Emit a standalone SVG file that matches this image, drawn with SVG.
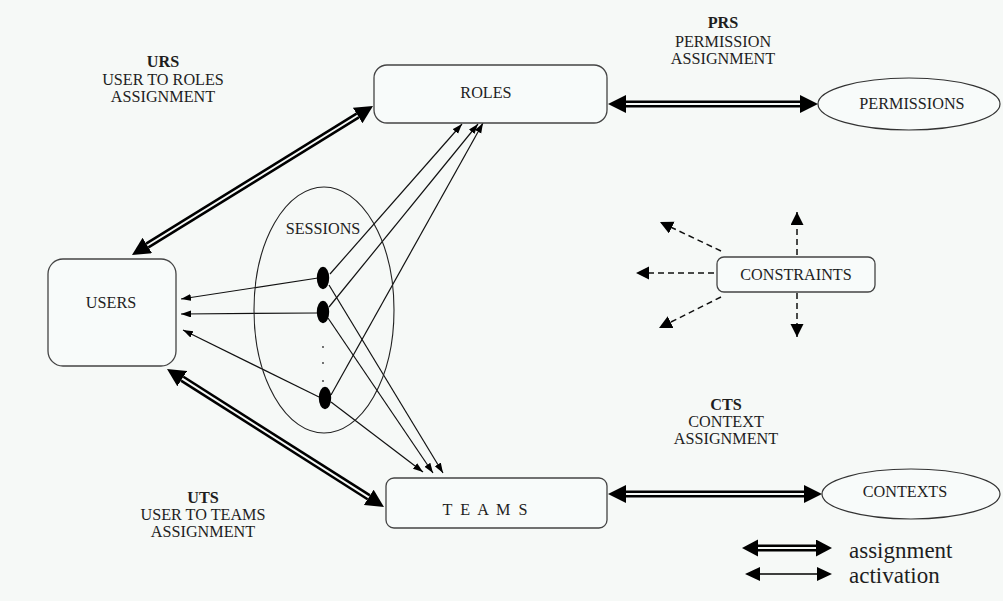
<svg xmlns="http://www.w3.org/2000/svg" width="1003" height="601" viewBox="0 0 1003 601">
  <style>
    text { font-family: "Liberation Serif", "Times New Roman", serif; fill: #1e1e1e; text-anchor: middle; }
    .lbl { font-size: 16.2px; }
    .bold { font-weight: bold; }
    .node { fill: #f8fbfa; stroke: #444; stroke-width: 1.3; }
    .thin { stroke: #111; stroke-width: 1.2; fill: none; marker-end: url(#tip); }
    .dash { stroke: #111; stroke-width: 1.5; fill: none; stroke-dasharray: 6 4; marker-end: url(#dtip); }
    .dblOuter { stroke: #000; stroke-width: 7; fill: none; }
    .dblInner { stroke: #f6f9f7; stroke-width: 2; fill: none; }
  </style>
  <defs>
    <marker id="tip" markerUnits="userSpaceOnUse" markerWidth="11" markerHeight="8" refX="10" refY="3.5" orient="auto">
      <path d="M0,0 L10,3.5 L0,7 z" fill="#000"/>
    </marker>
    <marker id="dtip" markerUnits="userSpaceOnUse" markerWidth="14" markerHeight="14" refX="13" refY="6.5" orient="auto">
      <path d="M0,0 L13,6.5 L0,13 z" fill="#000"/>
    </marker>
    <!-- large head for assignment links, base at refX=0 so it sits beyond the line end -->
    <marker id="big" markerUnits="userSpaceOnUse" markerWidth="19" markerHeight="19" refX="0" refY="9" orient="auto-start-reverse">
      <path d="M0,0 L18,9 L0,18 z" fill="#000"/>
    </marker>
    <marker id="bigLegend" markerUnits="userSpaceOnUse" markerWidth="17" markerHeight="18" refX="0" refY="8.5" orient="auto-start-reverse">
      <path d="M0,0 L16,8.5 L0,17 z" fill="#000"/>
    </marker>
    <marker id="midTip" markerUnits="userSpaceOnUse" markerWidth="16" markerHeight="15" refX="0" refY="7" orient="auto-start-reverse">
      <path d="M0,0 L15,7 L0,14 z" fill="#000"/>
    </marker>
  </defs>

  <rect x="0" y="0" width="1003" height="601" fill="#f6f9f7"/>

  <!-- connectors -->
  <g id="connectors">
    <!-- assignment links (double line) -->
    <g id="urs-link">
      <line class="dblOuter" x1="147.3" y1="245.5" x2="357.7" y2="115.5" marker-start="url(#big)" marker-end="url(#big)"/>
      <line class="dblInner" x1="147.3" y1="245.5" x2="357.7" y2="115.5"/>
    </g>
    <g id="uts-link">
      <line class="dblOuter" x1="182.2" y1="378.7" x2="368.8" y2="497.3" marker-start="url(#big)" marker-end="url(#big)"/>
      <line class="dblInner" x1="182.2" y1="378.7" x2="368.8" y2="497.3"/>
    </g>
    <g id="prs-link">
      <line class="dblOuter" x1="626" y1="104" x2="800" y2="104" marker-start="url(#big)" marker-end="url(#big)"/>
      <line class="dblInner" x1="626" y1="104" x2="800" y2="104"/>
    </g>
    <g id="cts-link">
      <line class="dblOuter" x1="626" y1="494" x2="804" y2="494" marker-start="url(#big)" marker-end="url(#big)"/>
      <line class="dblInner" x1="626" y1="494" x2="804" y2="494"/>
    </g>

    <!-- activation links from sessions -->
    <line class="thin" x1="318" y1="278" x2="181" y2="299"/>
    <line class="thin" x1="317" y1="313" x2="181" y2="314"/>
    <line class="thin" x1="319" y1="397" x2="183" y2="330"/>
    <line class="thin" x1="330" y1="274" x2="462" y2="124"/>
    <line class="thin" x1="329" y1="307" x2="478" y2="124"/>
    <line class="thin" x1="331" y1="395" x2="483" y2="123"/>
    <line class="thin" x1="329" y1="285" x2="443" y2="473"/>
    <line class="thin" x1="328" y1="318" x2="433" y2="473"/>
    <line class="thin" x1="331" y1="402" x2="423" y2="472"/>

    <!-- constraint rays -->
    <line class="dash" x1="797" y1="255" x2="797" y2="212"/>
    <line class="dash" x1="797" y1="293" x2="797" y2="337"/>
    <line class="dash" x1="714" y1="273" x2="636" y2="273"/>
    <line class="dash" x1="721" y1="251" x2="660" y2="222"/>
    <line class="dash" x1="721" y1="297" x2="659" y2="328"/>
  </g>

  <!-- nodes -->
  <g id="roles">
    <rect class="node" x="374" y="65" width="233" height="58" rx="13"/>
    <text class="lbl" x="486" y="98">ROLES</text>
  </g>
  <g id="users">
    <rect class="node" x="48" y="259" width="128" height="107" rx="15"/>
    <text class="lbl" x="111" y="308">USERS</text>
  </g>
  <g id="sessions">
    <ellipse cx="324" cy="310" rx="70" ry="123" fill="none" stroke="#222" stroke-width="1.1"/>
    <text class="lbl" x="323" y="234">SESSIONS</text>
    <ellipse cx="323" cy="278" rx="6.2" ry="11.3" fill="#000"/>
    <ellipse cx="323" cy="312" rx="6.2" ry="11.3" fill="#000"/>
    <ellipse cx="325" cy="398" rx="6.2" ry="11.3" fill="#000"/>
    <circle cx="323" cy="347" r="0.9" fill="#333"/>
    <circle cx="323" cy="363" r="0.9" fill="#333"/>
    <circle cx="323" cy="381" r="0.9" fill="#333"/>
  </g>
  <g id="permissions">
    <ellipse cx="909" cy="104" rx="91" ry="26" fill="#f8fbfa" stroke="#333" stroke-width="1.2"/>
    <text class="lbl" x="912" y="109">PERMISSIONS</text>
  </g>
  <g id="constraints">
    <rect class="node" x="717" y="257" width="158" height="35" rx="7"/>
    <text class="lbl" x="796" y="280">CONSTRAINTS</text>
  </g>
  <g id="teams">
    <rect class="node" x="386" y="478" width="221" height="50" rx="8"/>
    <text class="lbl" x="486" y="515" letter-spacing="2">T E A M S</text>
  </g>
  <g id="contexts">
    <ellipse cx="911" cy="494" rx="89" ry="25" fill="#f8fbfa" stroke="#333" stroke-width="1.2"/>
    <text class="lbl" x="905" y="497">CONTEXTS</text>
  </g>

  <!-- link labels -->
  <g id="urs-label">
    <text class="lbl bold" x="163" y="67">URS</text>
    <text class="lbl" x="163" y="85">USER TO ROLES</text>
    <text class="lbl" x="163" y="102">ASSIGNMENT</text>
  </g>
  <g id="prs-label">
    <text class="lbl bold" x="723" y="28">PRS</text>
    <text class="lbl" x="723" y="47">PERMISSION</text>
    <text class="lbl" x="723" y="64">ASSIGNMENT</text>
  </g>
  <g id="cts-label">
    <text class="lbl bold" x="726" y="410">CTS</text>
    <text class="lbl" x="726" y="427">CONTEXT</text>
    <text class="lbl" x="726" y="444">ASSIGNMENT</text>
  </g>
  <g id="uts-label">
    <text class="lbl bold" x="203" y="503">UTS</text>
    <text class="lbl" x="203" y="520">USER TO TEAMS</text>
    <text class="lbl" x="203" y="537">ASSIGNMENT</text>
  </g>

  <!-- legend -->
  <g id="legend">
    <line class="dblOuter" x1="758" y1="548" x2="816" y2="548" stroke-width="6" marker-start="url(#bigLegend)" marker-end="url(#bigLegend)"/>
    <line class="dblInner" x1="758" y1="548" x2="816" y2="548" stroke-width="1.6"/>
    <line x1="760" y1="574" x2="817" y2="574" stroke="#000" stroke-width="1.5" marker-start="url(#midTip)" marker-end="url(#midTip)"/>
    <text x="849" y="558" style="font-size:23px; text-anchor:start">assignment</text>
    <text x="849" y="583" style="font-size:23px; text-anchor:start">activation</text>
  </g>
</svg>
